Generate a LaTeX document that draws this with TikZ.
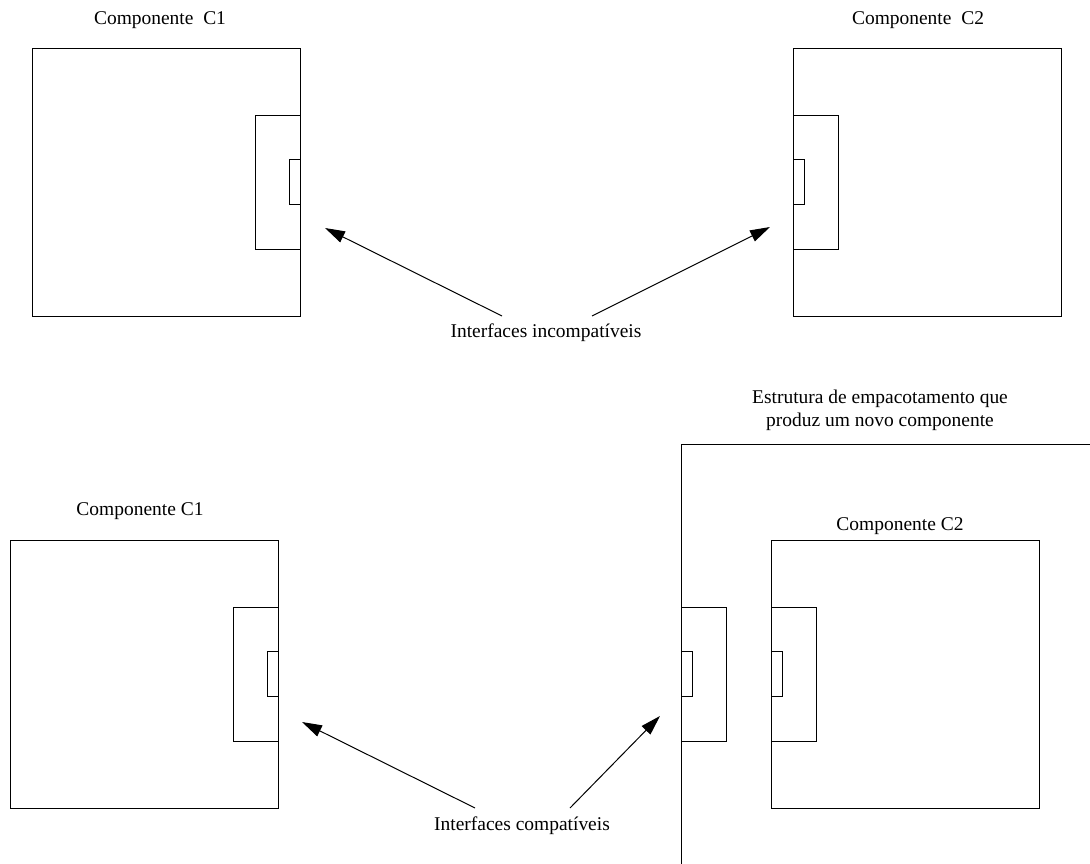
\documentclass[tikz,border=0pt]{standalone}
\usepackage{fontspec}
\setmainfont{Liberation Serif}
\usetikzlibrary{arrows.meta}
\begin{document}
\begin{tikzpicture}[x=0.75pt,y=-0.75pt,
  box/.style={draw, line width=0.75pt, inner sep=0pt,
    minimum width=268*0.75pt, minimum height=268*0.75pt},
  port/.style={draw, line width=0.75pt, inner sep=0pt,
    minimum width=45*0.75pt, minimum height=134*0.75pt},
  pin/.style={draw, line width=0.75pt, inner sep=0pt,
    minimum width=11*0.75pt, minimum height=45*0.75pt},
  lbl/.style={font=\fontsize{14.6}{17.3}\selectfont, inner sep=0pt, align=center},
  pointer/.style={line width=0.75pt, -{Triangle[length=15pt,width=9pt]}}]
\useasboundingbox (0,0) rectangle (1090,864);

% ---- upper half: two components with mismatched interfaces ----
\node[box] (c1a) at (166,182) {};
\node[port, anchor=east] (c1aport) at (c1a.east) {};
\node[pin, anchor=east] (c1apin) at (c1aport.east) {};
\node[lbl] (c1alabel) at (160,20) {Componente\ \ C1};

\node[box] (c2a) at (927,182) {};
\node[port, anchor=west] (c2aport) at (c2a.west) {};
\node[pin, anchor=west] (c2apin) at (c2aport.west) {};
\node[lbl] (c2alabel) at (918,20) {Componente\ \ C2};

\node[lbl] (incomp) at (546,333) {Interfaces incompatíveis};
\coordinate (ia1) at (502,316);
\coordinate (ia1tip) at (325,228);
\coordinate (ia2) at (592,316);
\coordinate (ia2tip) at (770,227);
\draw[pointer] (ia1) -- (ia1tip);
\draw[pointer] (ia2) -- (ia2tip);

% ---- lower half: wrapper adapts C2 to C1 ----
\node[box] (c1b) at (144,674) {};
\node[port, anchor=east] (c1bport) at (c1b.east) {};
\node[pin, anchor=east] (c1bpin) at (c1bport.east) {};
\node[lbl] (c1blabel) at (140,511) {Componente C1};

\coordinate (wrapbot) at (681,864);
\coordinate (wrapcorner) at (681,444);
\coordinate (wrapright) at (1090,444);
\draw[line width=0.75pt] (wrapbot) -- (wrapcorner) -- (wrapright);
\node[port, anchor=west] (wrapport) at (681,674) {};
\node[pin, anchor=west] (wrappin) at (wrapport.west) {};
\node[lbl] (wraplabel) at (880,410) {Estrutura de empacotamento que\\produz um novo componente};

\node[box] (c2b) at (905,674) {};
\node[port, anchor=west] (c2bport) at (c2b.west) {};
\node[pin, anchor=west] (c2bpin) at (c2bport.west) {};
\node[lbl] (c2blabel) at (900,526) {Componente C2};

\node[lbl] (comp) at (522,826) {Interfaces compatíveis};
\coordinate (ca1) at (475,808);
\coordinate (ca1tip) at (302,722);
\coordinate (ca2) at (570,808);
\coordinate (ca2tip) at (660,716);
\draw[pointer] (ca1) -- (ca1tip);
\draw[pointer] (ca2) -- (ca2tip);
\end{tikzpicture}
\end{document}
